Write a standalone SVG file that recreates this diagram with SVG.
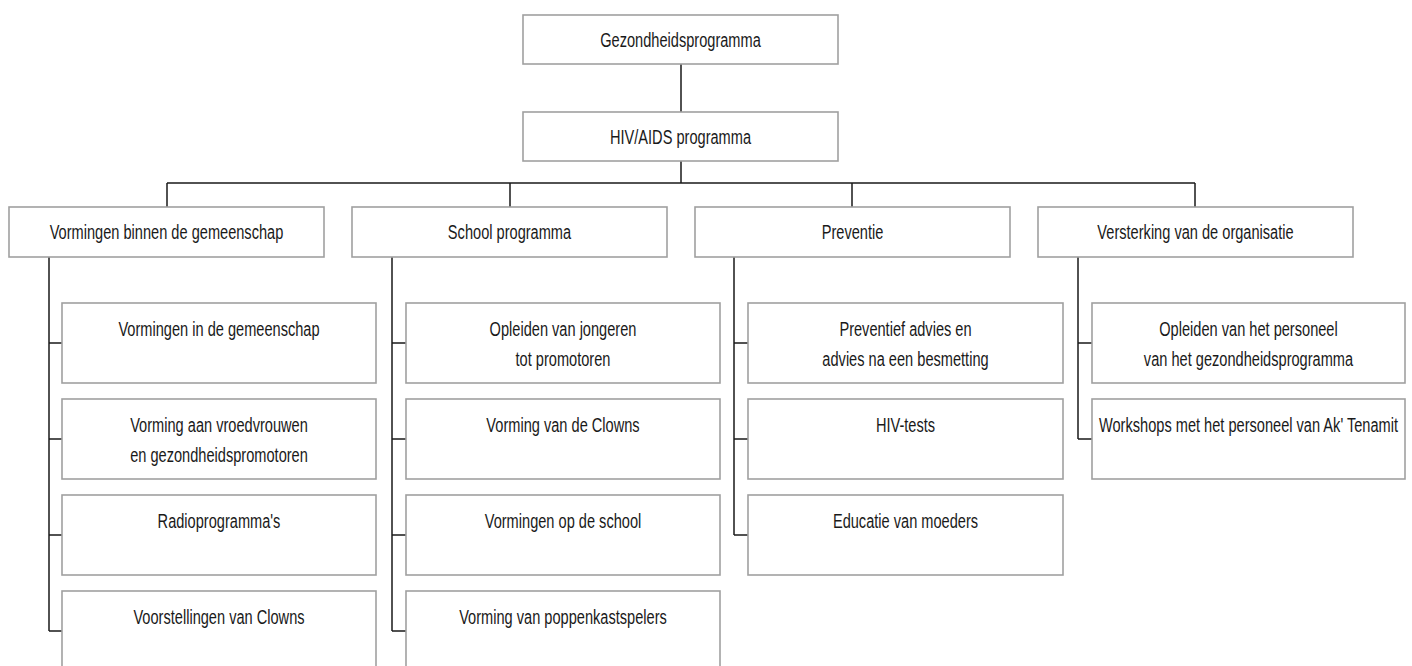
<svg xmlns="http://www.w3.org/2000/svg" width="1412" height="666" viewBox="0 0 1412 666">
<style>
.box{fill:#fff;stroke:#a0a0a0;stroke-width:1.6}
.t{font-family:"Liberation Sans",Arial,sans-serif;font-size:21px;fill:#1a1a1a;text-anchor:middle}
.c{fill:none;stroke:#1a1a1a;stroke-width:1.5}
</style>
<rect width="1412" height="666" fill="#fff"/>
<g id="connectors">
<path class="c" d="M681 64V112M681 161V183M167 183H1195M167 183V207M510 183V207M852 183V207M1195 183V207"/>
<path class="c" d="M49 257V631M49 343H62M49 439H62M49 535H62M49 631H62"/>
<path class="c" d="M392 257V631M392 343H406M392 439H406M392 535H406M392 631H406"/>
<path class="c" d="M734 257V535M734 343H748M734 439H748M734 535H748"/>
<path class="c" d="M1078 257V439M1078 343H1092M1078 439H1092"/>
</g>
<g id="n-gezondheid"><rect class="box" x="523" y="15" width="315" height="49"/><text class="t" transform="translate(680.5,47) scale(0.695,1)">Gezondheidsprogramma</text></g>
<g id="n-hivaids"><rect class="box" x="523" y="112" width="315" height="49"/><text class="t" transform="translate(680.5,144) scale(0.695,1)">HIV/AIDS programma</text></g>
<g id="n-vormingen-binnen"><rect class="box" x="9" y="207" width="315" height="50"/><text class="t" transform="translate(166.5,239) scale(0.695,1)">Vormingen binnen de gemeenschap</text></g>
<g id="n-school"><rect class="box" x="352" y="207" width="315" height="50"/><text class="t" transform="translate(509.5,239) scale(0.695,1)">School programma</text></g>
<g id="n-preventie"><rect class="box" x="695" y="207" width="315" height="50"/><text class="t" transform="translate(852.5,239) scale(0.695,1)">Preventie</text></g>
<g id="n-versterking"><rect class="box" x="1038" y="207" width="315" height="50"/><text class="t" transform="translate(1195.5,239) scale(0.695,1)">Versterking van de organisatie</text></g>

<g id="n-c1-1"><rect class="box" x="62" y="303" width="314" height="80"/><text class="t" transform="translate(219,336) scale(0.695,1)">Vormingen in de gemeenschap</text></g>
<g id="n-c1-2"><rect class="box" x="62" y="399" width="314" height="80"/><text class="t" transform="translate(219,432) scale(0.695,1)">Vorming aan vroedvrouwen</text><text class="t" transform="translate(219,462) scale(0.695,1)">en gezondheidspromotoren</text></g>
<g id="n-c1-3"><rect class="box" x="62" y="495" width="314" height="80"/><text class="t" transform="translate(219,528) scale(0.695,1)">Radioprogramma's</text></g>
<g id="n-c1-4"><rect class="box" x="62" y="591" width="314" height="80"/><text class="t" transform="translate(219,624) scale(0.695,1)">Voorstellingen van Clowns</text></g>

<g id="n-c2-1"><rect class="box" x="406" y="303" width="314" height="80"/><text class="t" transform="translate(563,336) scale(0.695,1)">Opleiden van jongeren</text><text class="t" transform="translate(563,366) scale(0.695,1)">tot promotoren</text></g>
<g id="n-c2-2"><rect class="box" x="406" y="399" width="314" height="80"/><text class="t" transform="translate(563,432) scale(0.695,1)">Vorming van de Clowns</text></g>
<g id="n-c2-3"><rect class="box" x="406" y="495" width="314" height="80"/><text class="t" transform="translate(563,528) scale(0.695,1)">Vormingen op de school</text></g>
<g id="n-c2-4"><rect class="box" x="406" y="591" width="314" height="80"/><text class="t" transform="translate(563,624) scale(0.695,1)">Vorming van poppenkastspelers</text></g>

<g id="n-c3-1"><rect class="box" x="748" y="303" width="315" height="80"/><text class="t" transform="translate(905.5,336) scale(0.695,1)">Preventief advies en</text><text class="t" transform="translate(905.5,366) scale(0.695,1)">advies na een besmetting</text></g>
<g id="n-c3-2"><rect class="box" x="748" y="399" width="315" height="80"/><text class="t" transform="translate(905.5,432) scale(0.695,1)">HIV-tests</text></g>
<g id="n-c3-3"><rect class="box" x="748" y="495" width="315" height="80"/><text class="t" transform="translate(905.5,528) scale(0.695,1)">Educatie van moeders</text></g>

<g id="n-c4-1"><rect class="box" x="1092" y="303" width="313" height="80"/><text class="t" transform="translate(1248.5,336) scale(0.695,1)">Opleiden van het personeel</text><text class="t" transform="translate(1248.5,366) scale(0.695,1)">van het gezondheidsprogramma</text></g>
<g id="n-c4-2"><rect class="box" x="1092" y="399" width="313" height="80"/><text class="t" transform="translate(1248.5,432) scale(0.695,1)">Workshops met het personeel van Ak' Tenamit</text></g>
</svg>
